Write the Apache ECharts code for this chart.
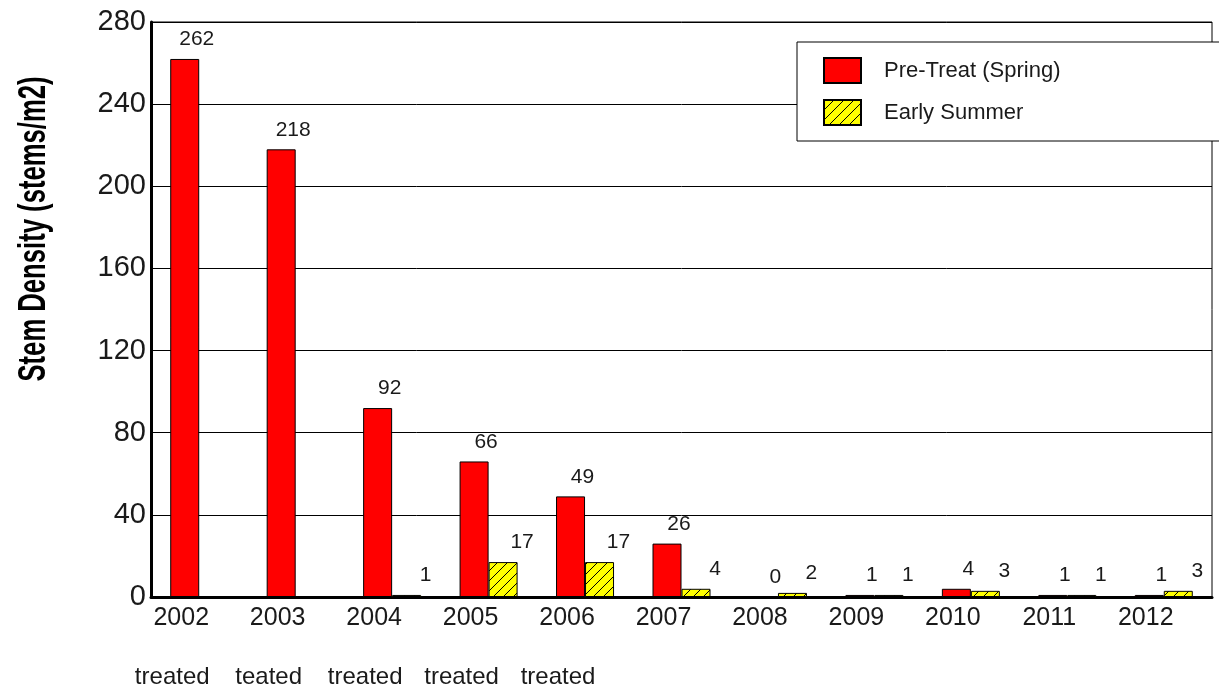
<!DOCTYPE html>
<html>
<head>
<meta charset="utf-8">
<script src="https://cdn.jsdelivr.net/npm/echarts@6/dist/echarts.min.js"></script>
<style>
html,body{margin:0;padding:0;background:#fff;}
#chart{width:1219px;height:692px;}
</style>
</head>
<body>
<div id="chart"></div>
<script>
var years = ['2002','2003','2004','2005','2006','2007','2008','2009','2010','2011','2012'];
var treatNotes = ['treated','teated','treated','treated','treated','','','','','',''];
var preTreat = [262, 218, 92, 66, 49, 26, 0, 1, 4, 1, 1];
var earlySummer = [null, null, 1, 17, 17, 4, 2, 1, 3, 1, 3];
var yTicks = {min: 0, max: 280, interval: 40};
var yTitle = 'Stem Density (stems/m2)';

var pc = document.createElement('canvas');
pc.width = 10; pc.height = 10;
var ctx = pc.getContext('2d');
ctx.fillStyle = '#ffff00';
ctx.fillRect(0, 0, 10, 10);
ctx.strokeStyle = '#000';
ctx.lineWidth = 1;
ctx.beginPath();
ctx.moveTo(-1, 11); ctx.lineTo(11, -1);
ctx.moveTo(-1, 1); ctx.lineTo(1, -1);
ctx.moveTo(9, 11); ctx.lineTo(11, 9);
ctx.stroke();

var txt = '#1a1a1a';
var font = 'Liberation Sans, Arial, sans-serif';
var chart = echarts.init(document.getElementById('chart'));
chart.setOption({
  animation: false,
  backgroundColor: '#fff',
  grid: {left: 151, right: 7, top: 22, bottom: 95, show: true, borderColor: '#000', borderWidth: 1, backgroundColor: 'transparent'},
  legend: {
    orient: 'vertical',
    left: 797, top: 42,
    padding: [15, 200, 15, 26],
    itemWidth: 37, itemHeight: 25, itemGap: 15,
    icon: 'rect',
    backgroundColor: '#fff', borderColor: '#000', borderWidth: 1,
    textStyle: {fontFamily: font, fontSize: 22, color: txt, padding: [0, 0, 0, 18]},
    data: ['Pre-Treat (Spring)', 'Early Summer']
  },
  graphic: [{
    type: 'text', x: 35, y: 229, rotation: Math.PI / 2, scaleX: 0.675,
    style: {text: yTitle, font: 'bold 38px Liberation Sans, Arial, sans-serif', fill: '#000', align: 'center', verticalAlign: 'middle', textAlign: 'center', textVerticalAlign: 'middle'}
  }],
  xAxis: [{
    type: 'category', data: years,
    axisLine: {lineStyle: {color: '#000', width: 3}},
    axisTick: {show: false},
    axisLabel: {fontFamily: font, fontSize: 25, color: txt, margin: 9, padding: [0, 36, 0, 0]}
  }, {
    type: 'category', data: treatNotes, position: 'bottom', offset: 60,
    axisLine: {show: false}, axisTick: {show: false},
    axisLabel: {fontFamily: font, fontSize: 24, color: txt, margin: 8, padding: [0, 54, 0, 0], interval: 0}
  }],
  yAxis: {
    type: 'value', min: yTicks.min, max: yTicks.max, interval: yTicks.interval,
    axisLine: {show: true, lineStyle: {color: '#000', width: 3}},
    axisTick: {show: false},
    splitLine: {lineStyle: {color: '#000', width: 1}},
    axisLabel: {fontFamily: font, fontSize: 29, color: txt, margin: 5}
  },
  series: [{
    name: 'Pre-Treat (Spring)', type: 'bar', data: preTreat,
    barWidth: 29, barGap: '0%',
    itemStyle: {color: '#ff0000', borderColor: '#000', borderWidth: 1},
    label: {show: true, position: 'top', distance: 9, offset: [12, 0], fontFamily: font, fontSize: 21, color: txt}
  }, {
    name: 'Early Summer', type: 'bar', data: earlySummer,
    barWidth: 29, barGap: '0%',
    itemStyle: {color: {image: pc, repeat: 'repeat'}, borderColor: '#000', borderWidth: 1},
    label: {show: true, position: 'top', distance: 9, offset: [19, 0], fontFamily: font, fontSize: 21, color: txt}
  }]
});
</script>
</body>
</html>
